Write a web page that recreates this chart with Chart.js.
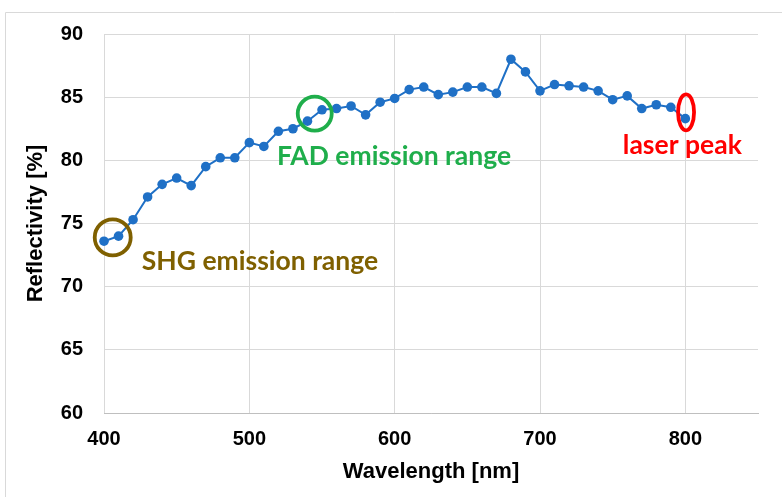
<!DOCTYPE html>
<html>
<head>
<meta charset="utf-8">
<script src="https://cdn.jsdelivr.net/npm/chart.js@4"></script>
<style>
  html, body { margin: 0; padding: 0; background: #fff; }
  #wrap { width: 782px; height: 497px; }
</style>
</head>
<body>
<div id="wrap"><canvas id="myChart" width="782" height="497"></canvas></div>
<script>
// data
const wavelengths = [400, 410, 420, 430, 440, 450, 460, 470, 480, 490,
  500, 510, 520, 530, 540, 550, 560, 570, 580, 590,
  600, 610, 620, 630, 640, 650, 660, 670, 680, 690,
  700, 710, 720, 730, 740, 750, 760, 770, 780, 790, 800];
const reflectivity = [73.6, 74.0, 75.3, 77.1, 78.1, 78.6, 78.0, 79.5, 80.2, 80.2,
  81.4, 81.1, 82.3, 82.5, 83.1, 84.0, 84.1, 84.3, 83.6, 84.6,
  84.9, 85.6, 85.8, 85.2, 85.4, 85.8, 85.8, 85.3, 88.0, 87.0,
  85.5, 86.0, 85.9, 85.8, 85.5, 84.8, 85.1, 84.1, 84.4, 84.2, 83.3];
const yTicks = [60, 65, 70, 75, 80, 85, 90];
const xTicks = [400, 500, 600, 700, 800];

// annotations: ring around a point and a caption
const rings = [
  {x: 406, y: 73.9, rx: 18, ry: 18, color: '#7f6000'},
  {x: 545, y: 83.7, rx: 17, ry: 17, color: '#1fae4b'},
  {x: 800.5, y: 83.8, rx: 8, ry: 18, color: '#ff0000'}
];
const captions = [
  {x: 426, y: 72.0, text: 'SHG emission range', color: '#7f6000'},
  {x: 519, y: 80.3, text: 'FAD emission range', color: '#1fae4b'},
  {x: 757, y: 81.2, text: 'laser peak', color: '#ff0000'}
];

const points = wavelengths.map((w, i) => ({x: w, y: reflectivity[i]}));

const markPlugin = {
  id: 'marks',
  beforeDraw(chart) {
    const ctx = chart.ctx;
    ctx.save();
    ctx.strokeStyle = '#d9d9d9';
    ctx.lineWidth = 1;
    ctx.beginPath();
    ctx.moveTo(5.5, 500);
    ctx.lineTo(5.5, 12.5);
    ctx.lineTo(790, 12.5);
    ctx.stroke();
    ctx.restore();
  },
  afterDatasetsDraw(chart) {
    const ctx = chart.ctx;
    const xs = chart.scales.x, ys = chart.scales.y;
    ctx.save();
    rings.forEach(r => {
      ctx.beginPath();
      ctx.ellipse(xs.getPixelForValue(r.x), ys.getPixelForValue(r.y), r.rx, r.ry, 0, 0, Math.PI * 2);
      ctx.strokeStyle = r.color;
      ctx.lineWidth = 3.8;
      ctx.stroke();
    });
    ctx.font = 'bold 26.5px Lato';
    ctx.textBaseline = 'middle';
    ctx.textAlign = 'left';
    captions.forEach(c => {
      ctx.fillStyle = c.color;
      ctx.fillText(c.text, xs.getPixelForValue(c.x), ys.getPixelForValue(c.y));
    });
    ctx.restore();
  }
};

const config = {
  type: 'line',
  data: {
    datasets: [{
      data: points,
      borderColor: '#1f70c6',
      backgroundColor: '#1f70c6',
      borderWidth: 2,
      pointRadius: 4.8,
      pointBorderWidth: 0,
      tension: 0,
      clip: false
    }]
  },
  options: {
    responsive: false,
    animation: false,
    layout: { padding: { top: 34, right: 24, left: 0, bottom: 0 } },
    plugins: { legend: { display: false }, tooltip: { enabled: false } },
    scales: {
      x: {
        type: 'linear',
        min: 400,
        max: 850,
        afterBuildTicks: (s) => { s.ticks = xTicks.map(v => ({value: v})); },
        afterFit: (s) => { s.height = 84; },
        ticks: {
          includeBounds: false,
          padding: 14,
          color: '#000',
          font: { family: 'Liberation Sans', size: 20, weight: 'bold' }
        },
        grid: { color: '#d9d9d9', drawTicks: false },
        border: { color: '#bfbfbf' },
        title: {
          display: true,
          text: 'Wavelength [nm]',
          color: '#000',
          padding: { top: 0, bottom: 12 },
          font: { family: 'Liberation Sans', size: 22, weight: 'bold' }
        }
      },
      y: {
        min: 60,
        max: 90,
        afterBuildTicks: (s) => { s.ticks = yTicks.map(v => ({value: v})); },
        afterFit: (s) => { s.width = 104; },
        ticks: {
          padding: 21,
          color: '#000',
          font: { family: 'Liberation Sans', size: 20, weight: 'bold' }
        },
        grid: { color: '#d9d9d9', drawTicks: false },
        border: { display: false },
        title: {
          display: true,
          text: 'Reflectivity [%]',
          color: '#000',
          padding: { top: 23, bottom: 0 },
          font: { family: 'Liberation Sans', size: 22, weight: 'bold' }
        }
      }
    }
  },
  plugins: [markPlugin]
};

const myChart = new Chart(document.getElementById('myChart'), config);
</script>
</body>
</html>
